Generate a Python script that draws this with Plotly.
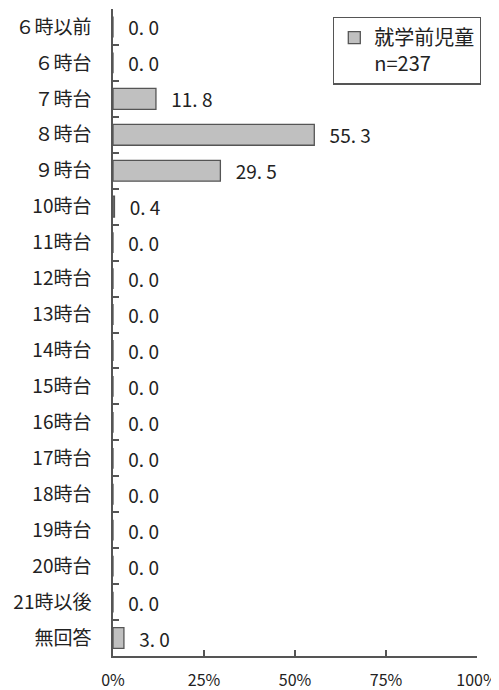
import plotly.graph_objects as go

categories = ["６時以前", "６時台", "７時台", "８時台", "９時台", "10時台", "11時台", "12時台",
              "13時台", "14時台", "15時台", "16時台", "17時台", "18時台", "19時台", "20時台",
              "21時以後", "無回答"]
values = [0.0, 0.0, 11.8, 55.3, 29.5, 0.4, 0.0, 0.0, 0.0, 0.0, 0.0, 0.0, 0.0, 0.0, 0.0, 0.0, 0.0, 3.0]
series_name = "就学前児童"
n_label = "n=237"
x_ticks = [0, 25, 50, 75, 100]
x_tick_text = ["0%", "25%", "50%", "75%", "100%"]

FONT = "Noto Sans CJK JP"
labels = ["  \u2009" + f"{v:.1f}".replace(".", ". ") for v in values]

fig = go.Figure()
fig.add_trace(go.Bar(
    x=values, y=categories, orientation="h",
    name=series_name + "<br>" + n_label,
    marker=dict(color="#c0c0c0", line=dict(color="#555555", width=1.3)),
    text=labels, textposition="outside", cliponaxis=False, constraintext="none",
    textfont=dict(family=FONT, size=19, color="#222222"),
    width=0.58,
))

# page has an 8px body margin; figure sized so the plot area lands where the reference has it
fig.update_layout(
    width=491, height=682,
    margin=dict(l=105, r=22, t=1, b=34),
    paper_bgcolor="white", plot_bgcolor="white",
    font=dict(family=FONT, size=18, color="#222222"),
    showlegend=True,
    legend=dict(x=1.011, xanchor="right", y=0.988, yanchor="top",
                bordercolor="#555555", borderwidth=1.3, bgcolor="white",
                font=dict(family=FONT, size=20, color="#222222"),
                valign="top", itemwidth=30, traceorder="normal"),
    xaxis=dict(range=[0, 100], tickvals=x_ticks, ticktext=x_tick_text,
               automargin=False,
               showgrid=False, zeroline=False,
               showline=True, linecolor="#555555", linewidth=1.5,
               ticks="inside", ticklen=6, tickcolor="#555555", tickwidth=1.5,
               ticklabelstandoff=9,
               tickfont=dict(family=FONT, size=16, color="#222222")),
    yaxis=dict(autorange="reversed", showgrid=False, zeroline=False,
               automargin=False,
               showline=True, linecolor="#555555", linewidth=1.5,
               ticks="inside", ticklen=6, tickcolor="#555555", tickwidth=1.5,
               tickson="boundaries", ticklabelstandoff=16,
               tickfont=dict(family=FONT, size=19, color="#222222")),
)

fig.write_html("out.html")
